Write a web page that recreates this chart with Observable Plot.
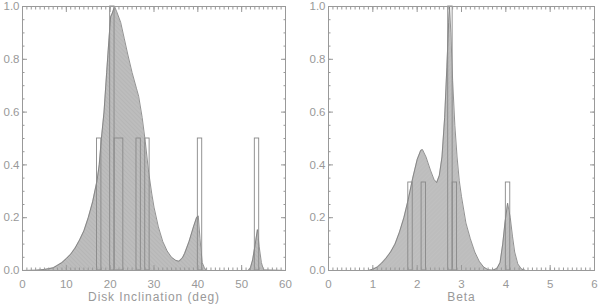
<!DOCTYPE html>
<html>
<head>
<meta charset="utf-8">
<script src="https://cdn.jsdelivr.net/npm/d3@7"></script>
<script src="https://cdn.jsdelivr.net/npm/@observablehq/plot@0.6"></script>
<style>
  html, body { margin: 0; padding: 0; background: #fff; }
  #wrap { display: flex; width: 600px; height: 305px; }
  svg { display: block; }
</style>
</head>
<body>
<div id="wrap"></div>
<script>
// ---- Left panel: disk inclination ----
const incX = [0, 3, 5, 7, 8, 9, 10, 11, 12, 13, 14, 15, 16, 17, 17.5, 18, 18.6, 19.2, 19.7, 20.1, 20.5, 21.0, 21.5, 22.4, 23.2, 24, 25, 26, 26.5, 27.3, 28, 28.8, 29.5, 30, 31, 32, 33, 34, 35, 35.7, 36.5, 37, 38, 39, 39.7, 40.1, 40.5, 41, 41.5, 42, 51.5, 52, 52.5, 53, 53.6, 54, 54.5, 55, 60];
const incY = [0, 0.001, 0.004, 0.01, 0.02, 0.03, 0.045, 0.062, 0.085, 0.115, 0.15, 0.2, 0.26, 0.34, 0.4, 0.5, 0.6, 0.75, 0.87, 0.96, 0.975, 1.0, 0.98, 0.94, 0.88, 0.82, 0.75, 0.69, 0.66, 0.58, 0.49, 0.37, 0.29, 0.24, 0.165, 0.11, 0.074, 0.05, 0.038, 0.035, 0.048, 0.065, 0.11, 0.165, 0.2, 0.207, 0.12, 0.03, 0.01, 0, 0, 0.01, 0.04, 0.09, 0.155, 0.09, 0.03, 0.002, 0];
const incBinLo = [17, 20, 21, 26, 28, 40, 53];
const incBinHi = [18, 21, 23, 27, 29, 41, 54];
const incBinH  = [0.5, 1.0, 0.5, 0.5, 0.5, 0.5, 0.5];
const incTicks = [0, 10, 20, 30, 40, 50, 60];
const incLabel = "Disk Inclination (deg)";

// ---- Right panel: beta ----
const betaX = [0, 0.9, 1.0, 1.1, 1.2, 1.3, 1.4, 1.5, 1.6, 1.7, 1.8, 1.9, 2.0, 2.08, 2.12, 2.2, 2.3, 2.38, 2.44, 2.5, 2.56, 2.62, 2.67, 2.71, 2.73, 2.76, 2.8, 2.85, 2.9, 2.95, 3.0, 3.1, 3.2, 3.3, 3.4, 3.5, 3.6, 3.7, 3.8, 3.87, 3.93, 3.98, 4.04, 4.1, 4.15, 4.2, 4.27, 4.35, 4.45, 6];
const betaY = [0, 0, 0.005, 0.013, 0.028, 0.047, 0.07, 0.1, 0.145, 0.2, 0.27, 0.35, 0.42, 0.455, 0.458, 0.43, 0.38, 0.345, 0.333, 0.36, 0.43, 0.58, 0.77, 0.94, 1.0, 0.9, 0.72, 0.55, 0.43, 0.34, 0.28, 0.18, 0.12, 0.07, 0.035, 0.013, 0.003, 0.001, 0.008, 0.03, 0.1, 0.18, 0.255, 0.2, 0.13, 0.07, 0.025, 0.006, 0, 0];
const betaBinLo = [1.8, 2.1, 2.7, 2.8, 4.0];
const betaBinHi = [1.9, 2.2, 2.8, 2.9, 4.1];
const betaBinH  = [1/3, 1/3, 1.0, 1/3, 1/3];
const betaTicks = [0, 1, 2, 3, 4, 5, 6];
const betaLabel = "Beta";

const yTicks = [0, 0.2, 0.4, 0.6, 0.8, 1.0];

const GRAY = "#999";
const FONT = "Liberation Sans, Arial, sans-serif";

function panel(o) {
  const curve = o.cx.map((x, i) => ({x, y: o.cy[i]}));
  const bins = o.lo.map((x1, i) => ({x1, x2: o.hi[i], y: o.h[i]}));
  const [x0, x1] = o.domain;
  const minorX = d3.range(x0, x1 + 1e-9, o.minorStep).map(v => +v.toFixed(4));
  const minorY = d3.range(0, 1.0001, 0.05).map(v => +v.toFixed(4));
  const svg = Plot.plot({
    width: 300,
    height: 305,
    marginLeft: o.ml, marginRight: o.mr, marginTop: 6, marginBottom: 35,
    style: {fontFamily: FONT, fontSize: "11.5px", color: GRAY, background: "#fff"},
    x: {domain: o.domain},
    y: {domain: [0, 1]},
    marks: [
      Plot.areaY(curve, {x: "x", y: "y", fill: `url(#${o.id})`}),
      Plot.lineY(curve, {x: "x", y: "y", stroke: "#777", strokeWidth: 0.8}),
      Plot.rect(bins, {x1: "x1", x2: "x2", y1: 0, y2: "y", fill: "none", stroke: "#888", strokeWidth: 0.9}),
      Plot.frame({stroke: GRAY, strokeWidth: 1}),
      // major ticks, inward, on all four sides
      Plot.axisX(o.ticks, {anchor: "bottom", tickSize: -5, fill: "none", stroke: GRAY, label: null}),
      Plot.axisX(o.ticks, {anchor: "top", tickSize: -5, fill: "none", stroke: GRAY, label: null}),
      Plot.axisY(yTicks, {anchor: "left", tickSize: -5, fill: "none", stroke: GRAY, label: null}),
      Plot.axisY(yTicks, {anchor: "right", tickSize: -5, fill: "none", stroke: GRAY, label: null}),
      // minor ticks
      Plot.axisX(minorX, {anchor: "bottom", tickSize: -2.5, fill: "none", stroke: GRAY, label: null}),
      Plot.axisX(minorX, {anchor: "top", tickSize: -2.5, fill: "none", stroke: GRAY, label: null}),
      Plot.axisY(minorY, {anchor: "left", tickSize: -2.5, fill: "none", stroke: GRAY, label: null}),
      Plot.axisY(minorY, {anchor: "right", tickSize: -2.5, fill: "none", stroke: GRAY, label: null}),
      // tick labels
      Plot.axisX(o.ticks, {anchor: "bottom", tickSize: 0, tickPadding: 9, fill: GRAY, label: null, tickFormat: d => String(d)}),
      Plot.axisY(yTicks, {anchor: "left", tickSize: 0, tickPadding: 3, fill: GRAY, label: null, tickFormat: d3.format(".1f")}),
      Plot.text([o.label], {frameAnchor: "bottom", lineAnchor: "middle", dy: 27, fill: GRAY, fontSize: 12, style: "letter-spacing:0.9px"})
    ]
  });
  svg.querySelectorAll("text").forEach(t => {
    if (t.textContent === o.label) t.setAttribute("letter-spacing", "0.9");
  });
  const ns = "http://www.w3.org/2000/svg";
  const defs = document.createElementNS(ns, "defs");
  defs.innerHTML = `<pattern id="${o.id}" patternUnits="userSpaceOnUse" width="3" height="3" patternTransform="rotate(${o.angle})">
      <rect width="3" height="3" fill="${o.base}"/>
      <line x1="0" y1="0" x2="0" y2="3" stroke="${o.line}" stroke-width="0.7"/></pattern>`;
  svg.insertBefore(defs, svg.firstChild);
  return svg;
}

const wrap = document.getElementById("wrap");
wrap.appendChild(panel({
  id: "hatchL", cx: incX, cy: incY, lo: incBinLo, hi: incBinHi, h: incBinH,
  domain: [0, 60], ticks: incTicks, minorStep: 1, label: incLabel,
  ml: 22, mr: 15, angle: -45, base: "#bdbdbd", line: "#a9a9a9"
}));
wrap.appendChild(panel({
  id: "hatchR", cx: betaX, cy: betaY, lo: betaBinLo, hi: betaBinHi, h: betaBinH,
  domain: [0, 6], ticks: betaTicks, minorStep: 0.1, label: betaLabel,
  ml: 28, mr: 6, angle: 45, base: "#bdbdbd", line: "#c6c6c6"
}));
</script>
</body>
</html>
